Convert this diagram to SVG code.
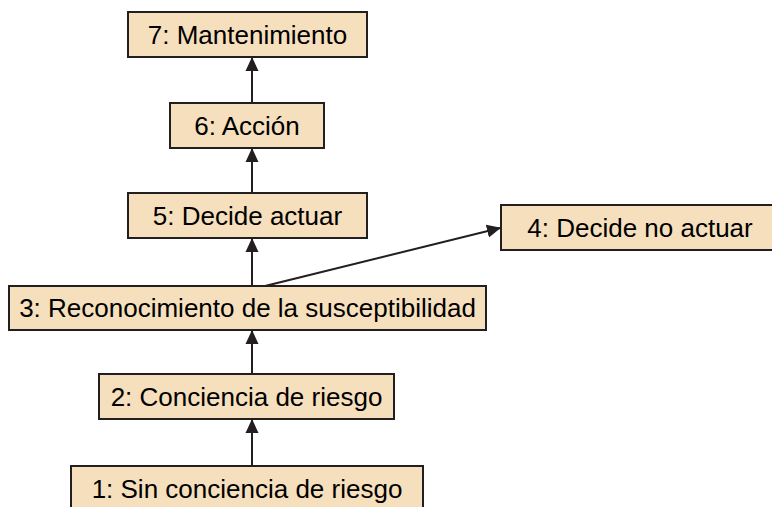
<svg xmlns="http://www.w3.org/2000/svg" width="772" height="507" viewBox="0 0 772 507">
<defs>
<style>
.box rect{fill:#F5DFBC;stroke:#231F20;stroke-width:2}
.box text{font-family:"Liberation Sans",Arial,sans-serif;font-size:26px;fill:#000;text-anchor:middle}
.conn line{stroke:#231F20;stroke-width:2;fill:none}
</style>
<marker id="ah" viewBox="0 0 14 14" refX="13" refY="7" markerWidth="14" markerHeight="14" markerUnits="userSpaceOnUse" orient="auto">
<path d="M0,0.5 L14,7 L0,13.5 Z" fill="#231F20"/>
</marker>
</defs>
<rect width="772" height="507" fill="#fff"/>
<g id="connectors" class="conn">
<line x1="252" y1="466" x2="252" y2="420" marker-end="url(#ah)"/>
<line x1="252" y1="374" x2="252" y2="331" marker-end="url(#ah)"/>
<line x1="252" y1="286" x2="252" y2="239" marker-end="url(#ah)"/>
<line x1="252" y1="193" x2="252" y2="149" marker-end="url(#ah)"/>
<line x1="252" y1="103" x2="252" y2="58" marker-end="url(#ah)"/>
<line x1="265" y1="286" x2="500" y2="228" marker-end="url(#ah)"/>
</g>
<g id="n7" class="box"><rect x="128" y="12" width="239" height="45"/><text x="247.5" y="44">7: Mantenimiento</text></g>
<g id="n6" class="box"><rect x="170" y="103" width="154" height="45"/><text x="247" y="135">6: Acción</text></g>
<g id="n5" class="box"><rect x="128" y="193" width="239" height="45"/><text x="247.5" y="225">5: Decide actuar</text></g>
<g id="n4" class="box"><rect x="501" y="205" width="280" height="45"/><text x="640" y="237">4: Decide no actuar</text></g>
<g id="n3" class="box"><rect x="9" y="286" width="477" height="44"/><text x="247.5" y="317">3: Reconocimiento de la susceptibilidad</text></g>
<g id="n2" class="box"><rect x="99" y="374" width="295" height="45"/><text x="246.5" y="406">2: Conciencia de riesgo</text></g>
<g id="n1" class="box"><rect x="71" y="466" width="352" height="50"/><text x="247" y="498">1: Sin conciencia de riesgo</text></g>
</svg>
